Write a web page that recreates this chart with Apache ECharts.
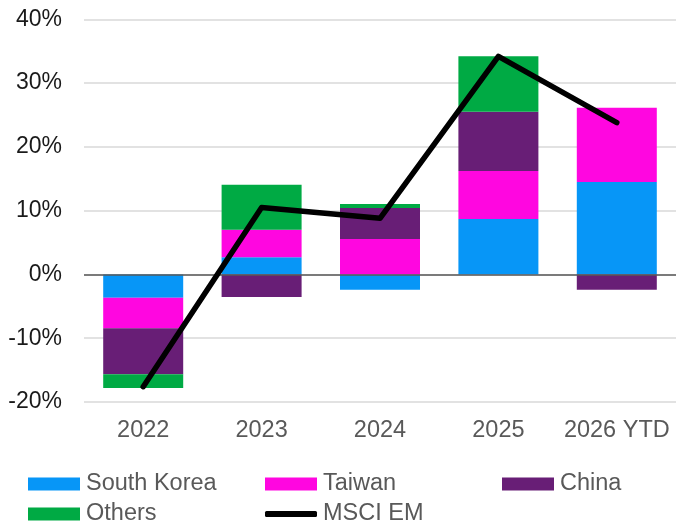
<!DOCTYPE html>
<html>
<head>
<meta charset="utf-8">
<script src="https://cdn.jsdelivr.net/npm/echarts@6/dist/echarts.min.js"></script>
<style>html,body{margin:0;padding:0;background:#fff}#c{width:676px;height:526px}</style>
</head>
<body>
<div id="c"></div>
<script>
const categories = ['2022', '2023', '2024', '2025', '2026 YTD'];
const southKorea = [-3.65, 2.7, -2.4, 8.7, 14.5];
const taiwan = [-4.8, 4.3, 5.55, 7.5, 11.65];
const china = [-7.2, -3.55, 4.85, 9.3, -2.4];
const others = [-2.15, 7.05, 0.63, 8.7, 0];
const msciEM = [-17.6, 10.5, 8.8, 34.2, 23.8];
const yTicks = { min: -20, max: 40, interval: 10 };

const FONT = '"Liberation Sans", Arial, sans-serif';
const colors = { sk: '#0796F7', tw: '#FF06E0', cn: '#681E76', ot: '#00AA44', em: '#000000' };

function leg(name, left, top, icon, h) {
  return {
    data: [{ name: name, icon: icon }],
    left: left, top: top, padding: 0, orient: 'horizontal',
    itemWidth: 52, itemHeight: h, itemGap: 0,
    selectedMode: false,
    textStyle: { fontFamily: FONT, fontSize: 23.5, color: '#595959', padding: [0, 0, 0, 1], lineHeight: 26 }
  };
}

const chart = echarts.init(document.getElementById('c'), null, { renderer: 'canvas' });
chart.setOption({
  animation: false,
  backgroundColor: '#fff',
  grid: { left: 84, top: 19.3, width: 600, height: 382.7, containLabel: false },
  legend: [
    leg('South Korea', 28, 471, 'rect', 13),
    leg('Taiwan', 265, 471, 'rect', 13),
    leg('China', 502, 471, 'rect', 13),
    leg('Others', 28, 501, 'rect', 13),
    leg('MSCI EM', 265, 501, 'roundRect', 6)
  ],
  xAxis: {
    type: 'category', data: categories, position: 'bottom',
    axisLine: { show: false, onZero: false }, axisTick: { show: false },
    axisLabel: { interval: 0, hideOverlap: false, fontFamily: FONT, fontSize: 23.5, color: '#595959', margin: 17 }
  },
  yAxis: {
    type: 'value', min: yTicks.min, max: yTicks.max, interval: yTicks.interval,
    axisLine: { show: false }, axisTick: { show: false },
    axisLabel: { formatter: '{value}%', fontFamily: FONT, fontSize: 23, color: '#1a1a1a', margin: 22 },
    splitLine: { lineStyle: { color: '#d9d9d9', width: 1.5 } }
  },
  series: [
    { name: 'South Korea', type: 'bar', stack: 's', data: southKorea, barWidth: 80, itemStyle: { color: colors.sk },
      markLine: { silent: true, symbol: ['none', 'none'], label: { show: false }, lineStyle: { color: '#595959', width: 1.5, type: 'solid' }, data: [{ yAxis: 0 }] },
      z: 2 },
    { name: 'Taiwan', type: 'bar', stack: 's', data: taiwan, barWidth: 80, itemStyle: { color: colors.tw }, z: 2 },
    { name: 'China', type: 'bar', stack: 's', data: china, barWidth: 80, itemStyle: { color: colors.cn }, z: 2 },
    { name: 'Others', type: 'bar', stack: 's', data: others, barWidth: 80, itemStyle: { color: colors.ot }, z: 2 },
    { name: 'MSCI EM', type: 'line', data: msciEM, symbol: 'none', z: 5,
      itemStyle: { color: colors.em },
      lineStyle: { color: colors.em, width: 5.5, cap: 'round', join: 'round' } }
  ]
});
</script>
</body>
</html>
